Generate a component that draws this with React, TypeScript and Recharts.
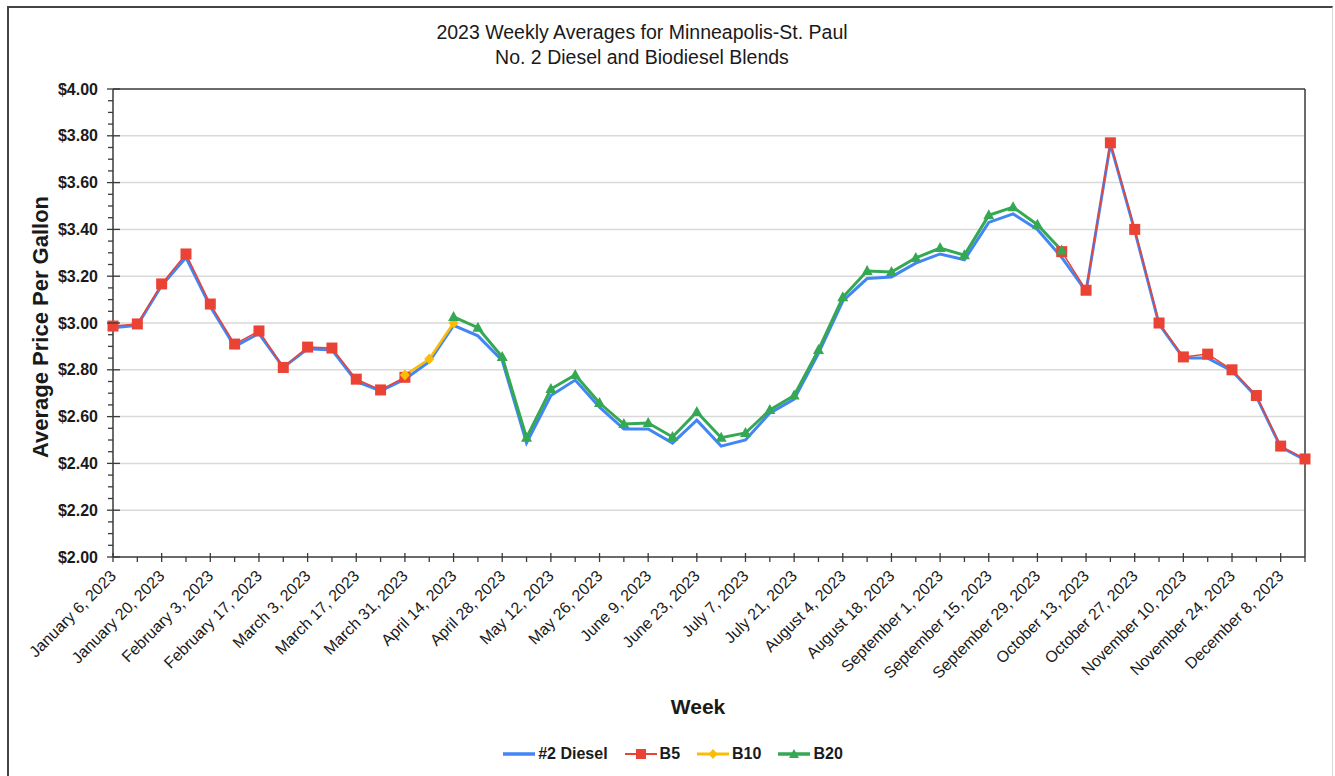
import React from 'react';
import { LineChart, Line, XAxis, YAxis, CartesianGrid } from 'recharts';

const N = null;

const weeks: string[] = [
  'January 6, 2023', 'January 13, 2023', 'January 20, 2023', 'January 27, 2023',
  'February 3, 2023', 'February 10, 2023', 'February 17, 2023', 'February 24, 2023',
  'March 3, 2023', 'March 10, 2023', 'March 17, 2023', 'March 24, 2023', 'March 31, 2023',
  'April 7, 2023', 'April 14, 2023', 'April 21, 2023', 'April 28, 2023',
  'May 5, 2023', 'May 12, 2023', 'May 19, 2023', 'May 26, 2023',
  'June 2, 2023', 'June 9, 2023', 'June 16, 2023', 'June 23, 2023', 'June 30, 2023',
  'July 7, 2023', 'July 14, 2023', 'July 21, 2023', 'July 28, 2023',
  'August 4, 2023', 'August 11, 2023', 'August 18, 2023', 'August 25, 2023',
  'September 1, 2023', 'September 8, 2023', 'September 15, 2023', 'September 22, 2023', 'September 29, 2023',
  'October 6, 2023', 'October 13, 2023', 'October 20, 2023', 'October 27, 2023',
  'November 3, 2023', 'November 10, 2023', 'November 17, 2023', 'November 24, 2023',
  'December 1, 2023', 'December 8, 2023', 'December 15, 2023',
];

const diesel: (number | null)[] = [
  2.98, 2.99, 3.16, 3.28, 3.07, 2.9, 2.955, 2.81, 2.89, 2.885, 2.75, 2.71, 2.76,
  2.835, 2.99, 2.945, 2.84, 2.487, 2.69, 2.756, 2.64, 2.547, 2.547, 2.487, 2.585, 2.474,
  2.5, 2.615, 2.675, 2.87, 3.094, 3.19, 3.197, 3.256, 3.295, 3.27, 3.43, 3.466, 3.4,
  3.28, 3.135, 3.765, 3.395, 2.995, 2.85, 2.85, 2.795, 2.685, 2.47, 2.415,
];

const b5: (number | null)[] = [
  2.987, 2.996, 3.167, 3.295, 3.081, 2.91, 2.966, 2.81, 2.897, 2.893, 2.76, 2.714, 2.768,
  N, N, N, N, N, N, N, N, N, N, N, N, N,
  N, N, N, N, N, N, N, N, N, N, N, N, N,
  3.305, 3.14, 3.77, 3.4, 3.0, 2.855, 2.867, 2.8, 2.69, 2.474, 2.419,
];

const b10: (number | null)[] = [
  N, N, N, N, N, N, N, N, N, N, N, N, 2.778,
  2.846, 3.0, N, N, N, N, N, N, N, N, N, N, N,
  N, N, N, N, N, N, N, N, N, N, N, N, N,
  N, N, N, N, N, N, N, N, N, N, N,
];

const b20: (number | null)[] = [
  N, N, N, N, N, N, N, N, N, N, N, N, N,
  N, 3.026, 2.98, 2.855, 2.51, 2.718, 2.778, 2.658, 2.568, 2.573, 2.513, 2.62, 2.51,
  2.53, 2.628, 2.69, 2.885, 3.11, 3.222, 3.218, 3.278, 3.32, 3.29, 3.46, 3.495, 3.42,
  3.31, N, N, N, N, N, N, N, N, N, N,
];

const yMajorTicks: number[] = [2.0, 2.2, 2.4, 2.6, 2.8, 3.0, 3.2, 3.4, 3.6, 3.8, 4.0];
const yAllTicks: number[] = yMajorTicks.flatMap((v, i) =>
  i < yMajorTicks.length - 1 ? [v, v + 0.05, v + 0.1, v + 0.15] : [v]
);
const gridValues = yMajorTicks.slice(1, -1);

const data = weeks.map((week, i) => ({
  week,
  diesel: diesel[i],
  b5: b5[i],
  b10: b10[i],
  b20: b20[i],
}));

const BLUE = '#4285F4';
const RED = '#EA4335';
const YELLOW = '#FBBC04';
const GREEN = '#34A853';
const AXIS = '#3a3a3a';
const FONT = '"Liberation Sans", Arial, Helvetica, sans-serif';

const XTick = (props: any) => {
  const { x, y, payload } = props;
  const i = props.index ?? payload?.index ?? 0;
  const major = i % 2 === 0;
  const px = x + 4;
  const py = y + 20;
  return (
    <g>
      <line x1={x} x2={x} y1={major ? y - 4 : y} y2={y + 5} stroke={AXIS} strokeWidth={1.3} />
      {major && (
        <text
          x={px}
          y={py}
          textAnchor="end"
          transform={`rotate(-45 ${px} ${py})`}
          fontSize={16}
          fontFamily={FONT}
          fill="#1a1a1a"
        >
          {payload.value}
        </text>
      )}
    </g>
  );
};

const YTick = (props: any) => {
  const { x, y, payload } = props;
  const v = payload.value as number;
  const major = Math.round(v * 100) % 20 === 0;
  return (
    <g>
      <line x1={major ? x - 6 : x - 5} x2={major ? x + 7 : x} y1={y} y2={y} stroke={AXIS} strokeWidth={1.3} />
      {major && (
        <text
          x={x - 15}
          y={y + 5.5}
          textAnchor="end"
          fontSize={16}
          fontWeight="bold"
          fontFamily={FONT}
          fill="#1a1a1a"
        >
          {`$${v.toFixed(2)}`}
        </text>
      )}
    </g>
  );
};

const squareDot = (p: any) =>
  p.cy == null || p.value == null ? (
    <g key={`s${p.index}`} />
  ) : (
    <rect key={`s${p.index}`} x={p.cx - 5.5} y={p.cy - 5.5} width={11} height={11} fill={RED} />
  );

const diamondDot = (p: any) =>
  p.cy == null || p.value == null ? (
    <g key={`d${p.index}`} />
  ) : (
    <polygon
      key={`d${p.index}`}
      points={`${p.cx},${p.cy - 5.5} ${p.cx + 5},${p.cy} ${p.cx},${p.cy + 5.5} ${p.cx - 5},${p.cy}`}
      fill={YELLOW}
    />
  );

const triangleDot = (p: any) =>
  p.cy == null || p.value == null ? (
    <g key={`t${p.index}`} />
  ) : (
    <polygon
      key={`t${p.index}`}
      points={`${p.cx},${p.cy - 6} ${p.cx + 5.5},${p.cy + 4} ${p.cx - 5.5},${p.cy + 4}`}
      fill={GREEN}
    />
  );

const legendItems = [
  { name: '#2 Diesel', color: BLUE, marker: 'none', width: 3 },
  { name: 'B5', color: RED, marker: 'square', width: 1.5 },
  { name: 'B10', color: YELLOW, marker: 'diamond', width: 2.5 },
  { name: 'B20', color: GREEN, marker: 'triangle', width: 3 },
];

const LegendMarker = ({ color, marker, width }: any) => (
  <svg width={34} height={14} style={{ display: 'block' }}>
    <line x1={1} x2={33} y1={7} y2={7} stroke={color} strokeWidth={width + 0.5} />
    {marker === 'square' && <rect x={12} y={2} width={10} height={10} fill={color} />}
    {marker === 'diamond' && <polygon points="17,2 21.5,7 17,12 12.5,7" fill={color} />}
    {marker === 'triangle' && <polygon points="17,2 22,11 12,11" fill={color} />}
  </svg>
);

export default function App() {
  return (
    <div
      style={{
        position: 'absolute',
        left: 0,
        top: 0,
        width: 1335,
        height: 776,
        background: '#fff',
        fontFamily: FONT,
        overflow: 'hidden',
      }}
    >
      <div
        style={{
          position: 'absolute',
          left: 7,
          top: 6,
          width: 1323,
          height: 768,
          borderLeft: '2px solid #444',
          borderTop: '2px solid #444',
          borderRight: '1px solid #d8d8d8',
          borderBottom: '1px solid #e4e4e4',
        }}
      />
      <div
        style={{
          position: 'absolute',
          left: 342,
          width: 600,
          top: 20,
          textAlign: 'center',
          fontSize: 19.5,
          lineHeight: '25px',
          color: '#1a1a1a',
        }}
      >
        <div>2023 Weekly Averages for Minneapolis-St. Paul</div>
        <div>No. 2 Diesel and Biodiesel Blends</div>
      </div>

      <div style={{ position: 'absolute', left: 0, top: 0 }}>
        <LineChart
          width={1335}
          height={776}
          data={data}
          margin={{ top: 59, right: 0, bottom: 189, left: 53 }}
        >
          <CartesianGrid
            horizontal={true}
            vertical={false}
            horizontalValues={gridValues}
            stroke="#d9d9d9"
            strokeWidth={1.5}
          />
          <XAxis
            dataKey="week"
            interval={0}
            height={30}
            tickSize={0}
            tickMargin={0}
            tickLine={false}
            tick={<XTick />}
            axisLine={{ stroke: AXIS, strokeWidth: 1.5 }}
          />
          <XAxis
            xAxisId="top"
            orientation="top"
            dataKey="week"
            height={30}
            tick={false}
            tickLine={false}
            axisLine={{ stroke: AXIS, strokeWidth: 1.5 }}
          />
          <YAxis
            type="number"
            domain={[2, 4]}
            ticks={yAllTicks}
            interval={0}
            width={60}
            tickSize={0}
            tickMargin={0}
            tickLine={false}
            tick={<YTick />}
            axisLine={{ stroke: AXIS, strokeWidth: 1.5 }}
          />
          <YAxis
            yAxisId="right"
            orientation="right"
            type="number"
            domain={[2, 4]}
            width={30}
            tick={false}
            tickLine={false}
            axisLine={{ stroke: AXIS, strokeWidth: 1.5 }}
          />
          <Line
            type="linear"
            dataKey="diesel"
            name="#2 Diesel"
            stroke={BLUE}
            strokeWidth={3}
            dot={false}
            activeDot={false}
            isAnimationActive={false}
          />
          <Line
            type="linear"
            dataKey="b5"
            name="B5"
            stroke={RED}
            strokeWidth={1.5}
            dot={squareDot}
            activeDot={false}
            isAnimationActive={false}
          />
          <Line
            type="linear"
            dataKey="b10"
            name="B10"
            stroke={YELLOW}
            strokeWidth={2.5}
            dot={diamondDot}
            activeDot={false}
            isAnimationActive={false}
          />
          <Line
            type="linear"
            dataKey="b20"
            name="B20"
            stroke={GREEN}
            strokeWidth={3}
            dot={triangleDot}
            activeDot={false}
            isAnimationActive={false}
          />
        </LineChart>
      </div>

      <div
        style={{
          position: 'absolute',
          left: 41,
          top: 327,
          transform: 'translate(-50%, -50%) rotate(-90deg)',
          fontSize: 22,
          fontWeight: 'bold',
          whiteSpace: 'nowrap',
          color: '#1a1a1a',
        }}
      >
        Average Price Per Gallon
      </div>
      <div
        style={{
          position: 'absolute',
          left: 698,
          top: 707,
          transform: 'translate(-50%, -50%)',
          fontSize: 21,
          fontWeight: 'bold',
          color: '#1a1a1a',
        }}
      >
        Week
      </div>
      <div
        style={{
          position: 'absolute',
          left: 0,
          width: 1345,
          top: 745,
          display: 'flex',
          justifyContent: 'center',
          alignItems: 'center',
          gap: 16,
          fontSize: 16,
          fontWeight: 'bold',
          color: '#1a1a1a',
        }}
      >
        {legendItems.map((it) => (
          <div key={it.name} style={{ display: 'flex', alignItems: 'center', gap: 2 }}>
            <LegendMarker color={it.color} marker={it.marker} width={it.width} />
            <span>{it.name}</span>
          </div>
        ))}
      </div>
    </div>
  );
}
